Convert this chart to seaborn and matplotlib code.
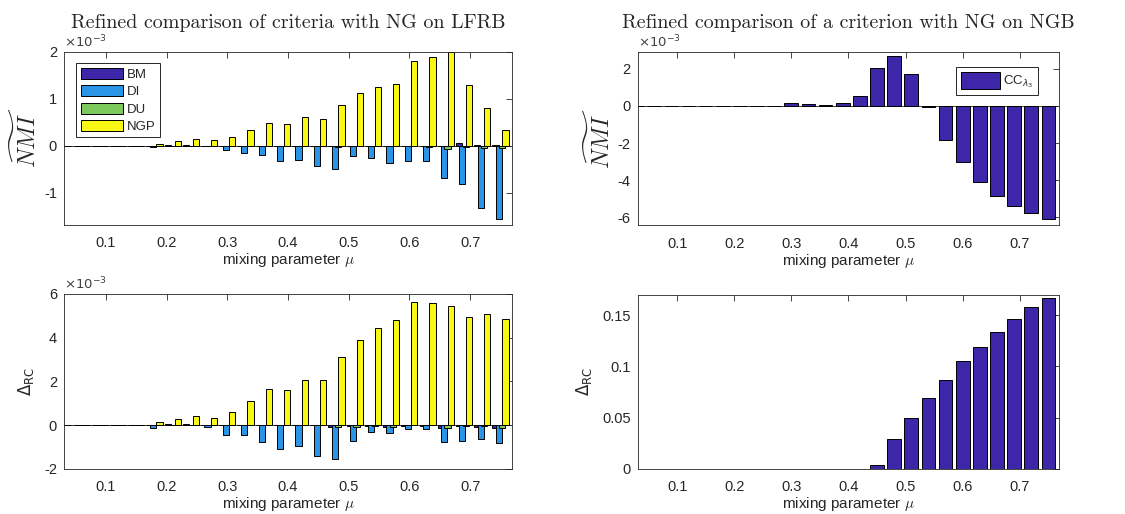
import numpy as np
import pandas as pd
import seaborn as sns
import matplotlib
matplotlib.use("Agg")
from matplotlib import pyplot as plt
from matplotlib.ticker import FormatStrFormatter

#%% DATA (NMI and Delta_RC differences vs NG, left panels in units of 1e-3)

mu = [0.03, 0.06, 0.09, 0.12, 0.15, 0.18, 0.21, 0.24, 0.27, 0.30,
      0.33, 0.36, 0.39, 0.42, 0.45, 0.48, 0.51, 0.54, 0.57, 0.60,
      0.63, 0.66, 0.69, 0.72, 0.75]

criteria = ['BM', 'DI', 'DU', 'NGP']

# LFRB, NMI (x1e-3)
nmi_bm = [0, 0, 0, 0, 0, 0, 0.01, 0.01, 0, 0,
          0, 0, 0, 0, -0.01, -0.01, -0.01, -0.01, -0.01, -0.01,
          -0.01, 0, 0.05, 0.01, 0.01]
nmi_di = [0, 0, 0, 0, 0, -0.04, 0, 0, -0.01, -0.10,
          -0.15, -0.21, -0.33, -0.30, -0.44, -0.50, -0.23, -0.26, -0.37, -0.33,
          -0.32, -0.70, -0.81, -1.32, -1.57]
nmi_du = [0, 0, 0, 0, 0, 0, 0, 0, 0, 0,
          0, 0, 0, 0, -0.01, -0.03, -0.01, -0.01, -0.01, -0.01,
          -0.02, -0.08, -0.04, -0.06, -0.05]
nmi_ngp = [0, 0, 0, 0, 0, 0.035, 0.09, 0.15, 0.11, 0.19,
           0.34, 0.48, 0.47, 0.60, 0.57, 0.87, 1.12, 1.25, 1.32, 1.80,
           1.89, 1.99, 1.30, 0.81, 0.34]

# LFRB, Delta_RC (x1e-3)
rc_bm = [0, 0, 0, 0, 0, 0, 0.03, 0.03, 0, 0,
         0, 0, 0, 0, 0, -0.10, -0.05, -0.05, -0.10, -0.03,
         -0.03, -0.12, -0.03, -0.10, -0.15]
rc_di = [0, 0, 0, 0, 0, -0.14, 0, 0, -0.09, -0.46,
         -0.46, -0.76, -1.08, -0.94, -1.44, -1.57, -0.71, -0.34, -0.35, -0.19,
         -0.19, -0.76, -0.74, -0.66, -0.84]
rc_du = [0, 0, 0, 0, 0, 0, 0, 0, 0, 0,
         0, 0, 0, 0, 0, -0.10, -0.10, -0.03, -0.10, 0,
         0, -0.13, -0.03, -0.03, -0.12]
rc_ngp = [0, 0, 0, 0, 0, 0.14, 0.28, 0.43, 0.31, 0.60,
          1.11, 1.65, 1.60, 2.08, 2.08, 3.13, 3.87, 4.44, 4.83, 5.65,
          5.60, 5.45, 4.96, 5.08, 4.84]

# NGB, CC_lambda3
nmi_cc = [0, 0, 0, 0, 0, 0, 0, 0, 0, 0.14,
          0.11, 0.07, 0.14, 0.52, 2.03, 2.69, 1.71, -0.04, -1.83, -3.00,
          -4.08, -4.88, -5.40, -5.78, -6.09]
rc_cc = [0, 0, 0, 0, 0, 0, 0, 0, 0, 0,
         0, 0, 0, 0, 0.004, 0.029, 0.050, 0.069, 0.087, 0.105,
         0.119, 0.134, 0.146, 0.158, 0.167]

#%% STYLE

sns.set_style('white')
plt.rcParams['font.family'] = ['Liberation Sans', 'DejaVu Sans']
plt.rcParams['axes.unicode_minus'] = False
plt.rcParams['axes.edgecolor'] = '#262626'
plt.rcParams['axes.linewidth'] = 0.6

colors = {'BM': '#3E26A8', 'DI': '#2A95E6', 'DU': '#7DCA5C', 'NGP': '#F8F814'}
offsets = {'BM': -0.0082, 'DI': -0.0027, 'DU': 0.0027, 'NGP': 0.0082}

fig = plt.figure(figsize=(11.25, 5.14), dpi=100)
ax1 = fig.add_axes([0.0569, 0.5623, 0.3982, 0.3372])
ax2 = fig.add_axes([0.0569, 0.0881, 0.3982, 0.3400])
ax3 = fig.add_axes([0.5668, 0.5613, 0.3748, 0.3382])
ax4 = fig.add_axes([0.5668, 0.0881, 0.3748, 0.3385])

#%% GROUPED PANELS (overlapping bars, like matlab)

def grouped(ax, series, show_leg):
    for name, vals in zip(criteria, series):
        x = np.array(mu) + offsets[name]
        sns.barplot(x=x, y=vals, native_scale=True, width=0.34,
                    color=colors[name], saturation=1, edgecolor='black',
                    linewidth=0.7, errorbar=None,
                    label=name if show_leg else None, ax=ax)

grouped(ax1, [nmi_bm, nmi_di, nmi_du, nmi_ngp], True)
grouped(ax2, [rc_bm, rc_di, rc_du, rc_ngp], False)

sns.barplot(x=mu, y=nmi_cc, native_scale=True, width=0.8, color='#3D26A8',
            saturation=1, edgecolor='black', linewidth=0.7, errorbar=None,
            label=r'CC$_{\lambda_3}$', ax=ax3)
sns.barplot(x=mu, y=rc_cc, native_scale=True, width=0.8, color='#3D26A8',
            saturation=1, edgecolor='black', linewidth=0.7, errorbar=None,
            ax=ax4)

#%% AXES FORMATTING

for ax in [ax1, ax2, ax3, ax4]:
    ax.set_xlim(0.031, 0.769)
    ax.set_xticks([0.1, 0.2, 0.3, 0.4, 0.5, 0.6, 0.7])
    ax.xaxis.set_major_formatter(FormatStrFormatter('%g'))
    ax.yaxis.set_major_formatter(FormatStrFormatter('%g'))
    ax.tick_params(direction='in', top=True, right=True, length=4,
                   width=0.6, color='#262626', labelsize=10.5,
                   labelcolor='#262626')
    ax.tick_params(axis='x', pad=8)
    ax.tick_params(axis='y', pad=5)
    ax.set_xlabel(r'mixing parameter $\mu$', fontsize=11, color='#262626',
                  math_fontfamily='cm', labelpad=1)
    ax.axhline(0, color='#404040', lw=0.7, zorder=0.5)
    for s in ax.spines.values():
        s.set_visible(True)
    if ax.get_legend() is not None and ax is ax2:
        ax.get_legend().remove()

ax1.set_ylim(-1.69, 2)
ax1.set_yticks([-1, 0, 1, 2])
ax2.set_ylim(-2, 6)
ax2.set_yticks([-2, 0, 2, 4, 6])
ax3.set_ylim(-6.45, 2.93)
ax3.set_yticks([-6, -4, -2, 0, 2])
ax4.set_ylim(0, 0.17)
ax4.set_yticks([0, 0.05, 0.1, 0.15])

for ax in [ax1, ax2, ax3]:
    ax.text(0, 1.01, r'$\times10^{-3}$', transform=ax.transAxes,
            fontsize=9.5, color='#404040', va='bottom', ha='left')

for ax in [ax1, ax3]:
    ax.set_ylabel(r'$\widetilde{NMI}$', fontsize=17, math_fontfamily='cm',
                  labelpad=2)
for ax in [ax2, ax4]:
    ax.set_ylabel(r'$\Delta_{\rm RC}$', fontsize=12, color='#262626',
                  math_fontfamily='dejavusans', labelpad=6)

ax1.set_title('Refined comparison of criteria with NG on LFRB',
              family='cmr10', fontsize=14.4, pad=17)
ax3.set_title('Refined comparison of a criterion with NG on NGB',
              family='cmr10', fontsize=14.4, pad=17)

leg1 = ax1.legend(loc='upper left', bbox_to_anchor=(0.012, 0.97),
                  fontsize=9.5, handlelength=3.2, handleheight=0.9,
                  labelspacing=0.32, handletextpad=0.3, borderpad=0.35,
                  fancybox=False, framealpha=1, edgecolor='#262626')
leg3 = ax3.legend(loc='upper right', bbox_to_anchor=(0.965, 0.95),
                  fontsize=9.5, handlelength=3.0, handleheight=1.7,
                  handletextpad=0.2, borderpad=0.35,
                  fancybox=False, framealpha=1, edgecolor='#262626')
for leg in [leg1, leg3]:
    leg.get_frame().set_linewidth(0.7)

fig.savefig('out.png', dpi=100)
